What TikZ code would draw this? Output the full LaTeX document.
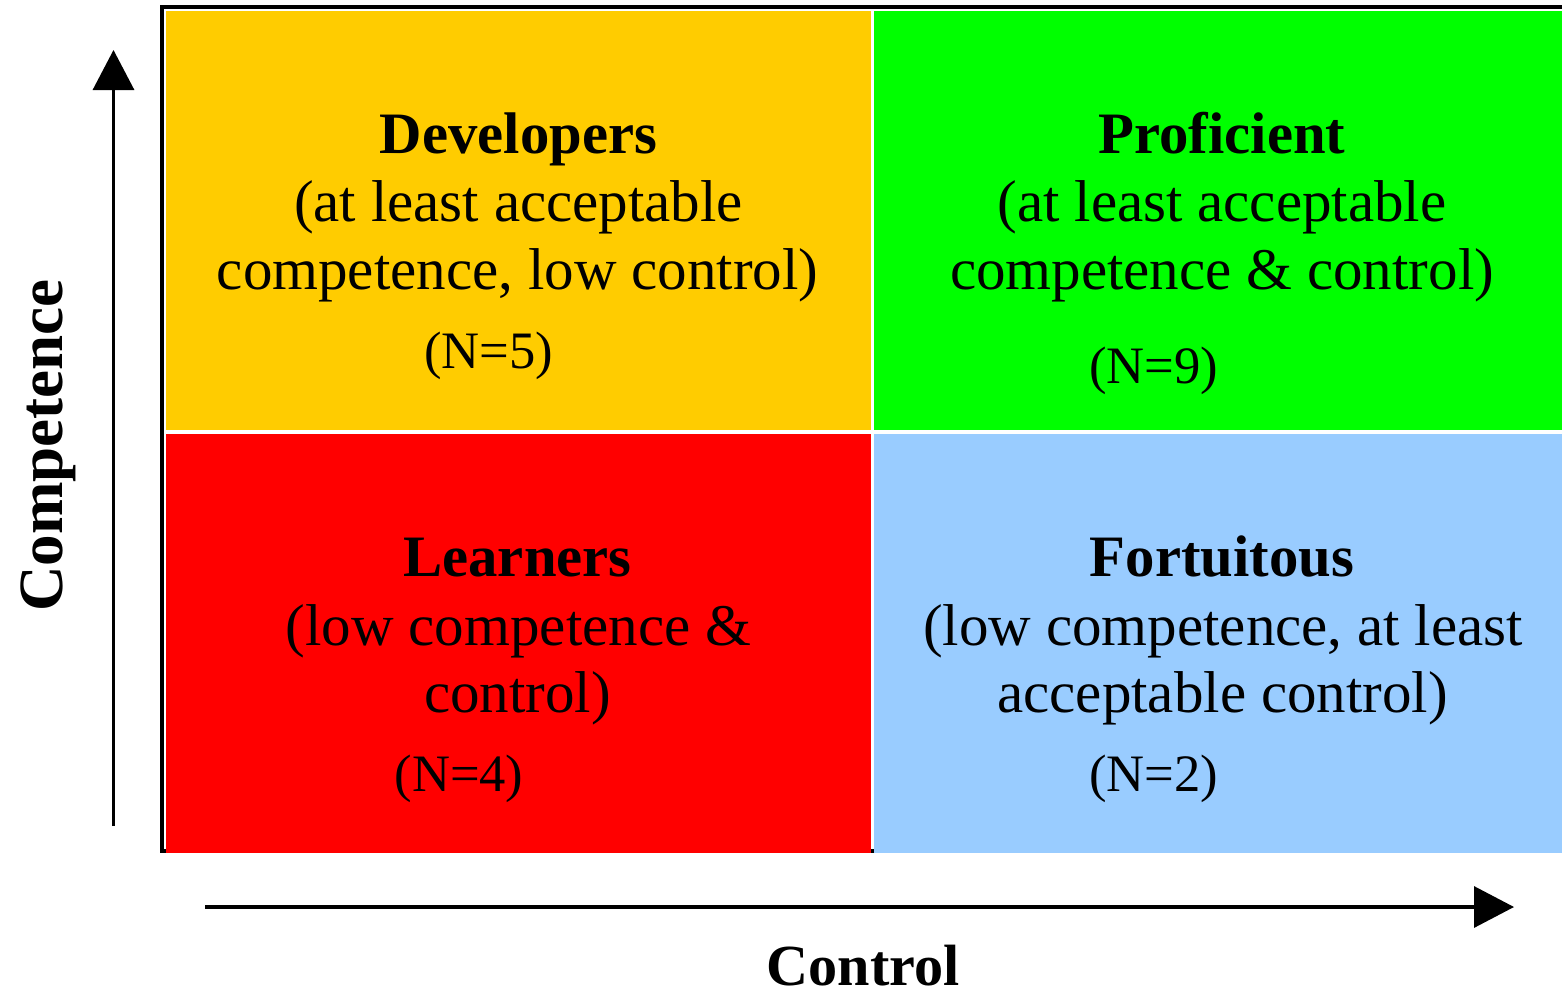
\documentclass[tikz,border=0pt]{standalone}
\usepackage{fontspec}
\setmainfont{Liberation Serif}
\usetikzlibrary{arrows.meta}
\definecolor{devyellow}{HTML}{FFCC00}
\definecolor{profgreen}{HTML}{00FF00}
\definecolor{learnred}{HTML}{FF0000}
\definecolor{fortblue}{HTML}{99CCFF}
\begin{document}
\begin{tikzpicture}[x=1pt,y=-1pt,
  title/.style={anchor=base,inner sep=0pt,font=\fontsize{58.7}{60}\selectfont\bfseries},
  desc/.style={anchor=base,inner sep=0pt,font=\fontsize{59}{69}\selectfont},
  count/.style={anchor=base,inner sep=0pt,font=\fontsize{52.6}{60}\selectfont},
  axislabel/.style={anchor=base,inner sep=0pt,font=\fontsize{58.2}{60}\selectfont\bfseries},
  axis/.style={line width=3.3pt,-{Triangle[length=40pt,width=41pt]}}]
\useasboundingbox (0,0) rectangle (1562,990);

% outer frame
\draw[line width=3.5pt] (1570,7) -- (162,7) -- (162,851) -- (874,851);

% quadrants
\fill[devyellow]  (166,11)  rectangle (871,430);
\fill[profgreen]  (874,11)  rectangle (1570,430);
\fill[learnred]   (166,434) rectangle (871,853);
\fill[fortblue]   (874,434) rectangle (1570,853);

% Developers
\node[title] (devT) at (518.5,153) {Developers};
\node[desc]  (devA) at (518.5,221) {(at least acceptable};
\node[desc]  (devB) at (517.5,289) {competence, low control)};
\node[count] (devN) at (488.5,368) {(N=5)};

% Proficient
\node[title] (proT) at (1222,153) {Proficient};
\node[desc]  (proA) at (1222,221) {(at least acceptable};
\node[desc]  (proB) at (1222,289) {competence \& control)};
\node[count] (proN) at (1153.5,383) {(N=9)};

% Learners
\node[title] (lrnT) at (517.5,576) {Learners};
\node[desc]  (lrnA) at (518.5,645) {(low competence \&};
\node[desc]  (lrnB) at (517.5,712) {control)};
\node[count] (lrnN) at (459,791) {(N=4)};

% Fortuitous
\node[title] (forT) at (1222,576) {Fortuitous};
\node[desc]  (forA) at (1223,645) {(low competence, at least};
\node[desc]  (forB) at (1222.5,712) {acceptable control)};
\node[count] (forN) at (1153.5,791) {(N=2)};

% axes
\coordinate (ybase) at (113.5,826);
\coordinate (ytip)  at (113.5,50);
\coordinate (xbase) at (205,907);
\coordinate (xtip)  at (1514,907);
\draw[axis] (ybase) -- (ytip);
\draw[axis] (xbase) -- (xtip);

\node[axislabel] (xlab) at (863,985) {Control};
\node[axislabel,font=\fontsize{63}{65}\selectfont\bfseries,rotate=90] (ylab) at (62,445.5) {Competence};
\end{tikzpicture}
\end{document}
